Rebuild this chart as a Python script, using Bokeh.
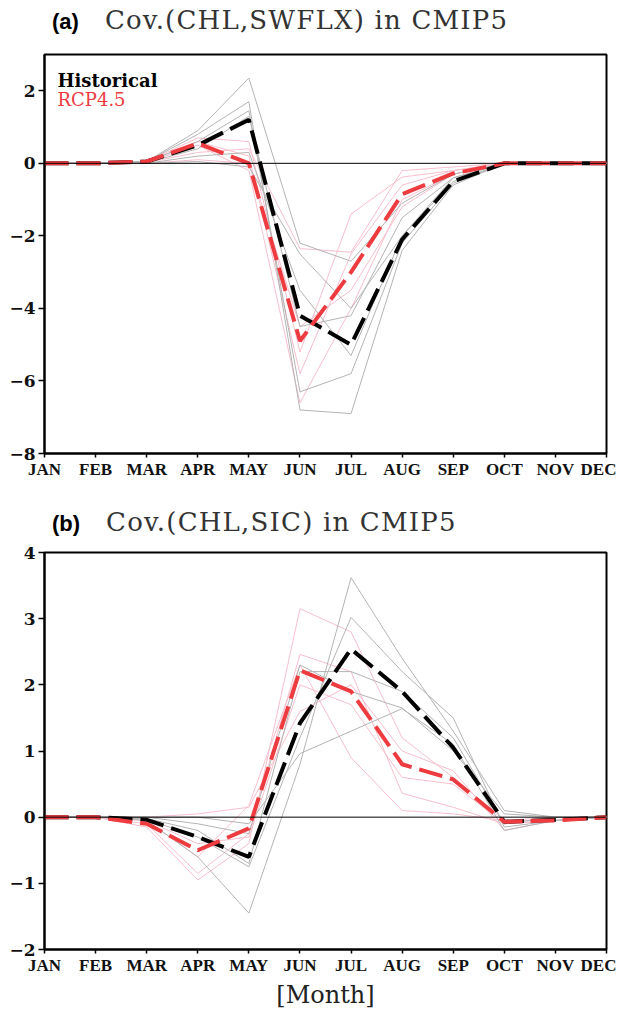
from bokeh.plotting import figure
from bokeh.models import FixedTicker, Span, Label, Range1d, Div
from bokeh.layouts import column
from bokeh.embed import file_html
from bokeh.resources import INLINE

months = ["JAN", "FEB", "MAR", "APR", "MAY", "JUN", "JUL", "AUG", "SEP", "OCT", "NOV", "DEC"]
month_idx = list(range(12))

# ---- panel (a): Cov.(CHL,SWFLX)
a_hist_mean = [0, 0, 0.05, 0.5, 1.2, -4.2, -5.0, -2.1, -0.5, 0, 0, 0]
a_rcp_mean = [0, 0, 0.05, 0.55, 0.0, -4.9, -3.0, -0.85, -0.28, 0, 0, 0]
a_hist_m1 = [0, 0, 0.05, 0.9, 2.35, -2.2, -2.7, -1.1, -0.3, 0, 0, 0]
a_hist_m2 = [0, 0, 0.05, 0.8, 1.7, -6.8, -6.9, -2.4, -0.6, 0, 0, 0]
a_hist_m3 = [0, 0, 0.03, 0.6, 1.45, -6.3, -5.8, -2.2, -0.55, 0, 0, 0]
a_hist_m4 = [0, 0, 0.02, 0.4, 1.3, -4.5, -4.2, -1.5, -0.4, 0, 0, 0]
a_hist_m5 = [0, 0, 0.0, 0.2, 0.3, -3.5, -5.3, -2.0, -0.5, 0, 0, 0]
a_hist_m6 = [0, 0, 0.0, 0.05, -0.1, -2.5, -4.0, -2.0, -0.4, 0, 0, 0]
a_rcp_m1 = [0, 0, 0.05, 0.7, 0.6, -5.2, -1.4, -0.38, -0.2, 0, 0, 0]
a_rcp_m2 = [0, 0, 0.05, 0.6, 0.2, -5.8, -2.5, -0.6, -0.2, 0, 0, 0]
a_rcp_m3 = [0, 0, 0.03, 0.5, -0.2, -6.6, -4.0, -1.0, -0.3, 0, 0, 0]
a_rcp_m4 = [0, 0, 0.02, 0.3, 0.4, -2.35, -2.45, -0.2, -0.1, 0, 0, 0]
a_rcp_m5 = [0, 0, 0.0, 0.1, 0.0, -4.5, -3.5, -1.2, -0.3, 0, 0, 0]
a_yticks = [-8, -6, -4, -2, 0, 2]
a_ylabels = ["\u22128", "\u22126", "\u22124", "\u22122", "0", "2"]

# ---- panel (b): Cov.(CHL,SIC)
b_hist_mean = [0, 0, -0.04, -0.3, -0.6, 1.42, 2.54, 1.9, 1.05, -0.07, -0.04, 0]
b_rcp_mean = [0, 0, -0.1, -0.5, -0.17, 2.22, 1.9, 0.8, 0.57, -0.07, -0.05, 0]
b_hist_m1 = [0, 0, -0.05, -0.6, -1.45, 0.8, 3.62, 2.4, 1.3, 0.1, 0, 0]
b_hist_m2 = [0, 0, -0.03, -0.3, -0.75, 1.2, 3.02, 2.2, 1.5, -0.15, -0.05, 0]
b_hist_m3 = [0, 0, -0.02, -0.2, -0.7, 2.2, 2.2, 1.9, 1.2, -0.1, 0, 0]
b_hist_m4 = [0, 0, 0.0, -0.1, -0.25, 2.3, 1.9, 1.65, 1.0, 0.05, 0, 0]
b_hist_m5 = [0, 0, 0.0, 0.0, -0.1, 0.96, 1.3, 1.64, 1.1, -0.2, -0.05, 0]
b_rcp_m1 = [0, 0, -0.15, -0.95, -0.4, 3.15, 2.8, 1.2, 0.6, -0.05, -0.05, 0]
b_rcp_m2 = [0, 0, -0.1, -0.85, -0.25, 2.46, 2.2, 0.36, 0.15, -0.1, -0.05, 0]
b_rcp_m3 = [0, 0, -0.05, -0.6, 0.18, 2.3, 0.9, 0.1, 0.05, -0.05, 0, 0]
b_rcp_m4 = [0, 0, 0.0, 0.05, 0.15, 1.6, 2.0, 1.0, 0.7, -0.2, -0.05, 0]
b_rcp_m5 = [0, 0, -0.05, -0.4, -0.3, 2.0, 1.7, 0.6, 0.5, -0.1, -0.05, 0]
b_yticks = [-2, -1, 0, 1, 2, 3, 4]
b_ylabels = ["\u22122", "\u22121", "0", "1", "2", "3", "4"]

GRAY = "#b4b4b4"
PINK = "#f6bfcd"
RED = "#ee3b40"
TICK_FONT = "DejaVu Serif"
W = 616


def title_div(letter, title, height, pad_top):
    html = (
        f"<div style='padding-left:52px;padding-top:{pad_top}px;white-space:nowrap;'>"
        f"<span style=\"font-family:'Liberation Sans';font-weight:bold;font-size:22px;color:#000;\">{letter}</span>"
        f"<span style=\"display:inline-block;width:26px;\"></span>"
        f"<span style=\"font-family:'DejaVu Serif';font-size:26px;letter-spacing:1.2px;color:#333;\">{title}</span>"
        f"</div>"
    )
    return Div(text=html, width=W, height=height, margin=0)


def make_panel(hist_models, rcp_models, hist_mean, rcp_mean,
               ylo, yhi, yticks, ylabels, top, bottom, fh, legend, xlabel=None):
    height = top + fh + bottom
    p = figure(width=W, height=height, output_backend="svg", toolbar_location=None,
               x_range=Range1d(0, 11), y_range=Range1d(ylo, yhi),
               min_border_left=44, min_border_right=10, min_border_top=top,
               min_border_bottom=bottom, margin=0)
    p.xgrid.visible = False
    p.ygrid.visible = False
    p.outline_line_color = "black"
    p.outline_line_width = 2
    p.outline_line_alpha = 1
    p.background_fill_color = "white"
    p.border_fill_color = "white"

    for m in rcp_models:
        p.line(month_idx, m, line_color=PINK, line_width=1)
    for m in hist_models:
        p.line(month_idx, m, line_color=GRAY, line_width=1)
    p.add_layout(Span(location=0, dimension="width", line_color="black",
                      line_width=1, level="glyph"))
    p.line(month_idx, hist_mean, line_color="black", line_width=4, line_dash="24 8")
    p.line(month_idx, rcp_mean, line_color=RED, line_width=4, line_dash="24 8")

    for ax in (p.xaxis[0], p.yaxis[0]):
        ax.axis_line_width = 2
        ax.axis_line_color = "black"
        ax.major_tick_line_width = 1.5
        ax.major_tick_in = 0
        ax.minor_tick_line_color = None
        ax.major_label_text_font = TICK_FONT
        ax.major_label_text_font_style = "bold"
        ax.major_label_text_color = "#111111"
    p.xaxis.ticker = FixedTicker(ticks=month_idx)
    p.xaxis.major_label_overrides = {i: m for i, m in enumerate(months)}
    p.xaxis.major_tick_out = 4
    p.xaxis.major_label_standoff = 2
    p.xaxis.major_label_text_font = "Liberation Serif"
    p.xaxis.major_label_text_font_size = "17px"
    p.yaxis.ticker = FixedTicker(ticks=yticks)
    p.yaxis.major_label_overrides = {v: l for v, l in zip(yticks, ylabels)}
    p.yaxis.major_tick_out = 6
    p.yaxis.major_label_standoff = 3
    p.yaxis.major_label_text_font_size = "17px"

    if xlabel:
        p.xaxis.axis_label = xlabel
        p.xaxis.axis_label_text_font = "DejaVu Serif"
        p.xaxis.axis_label_text_font_style = "normal"
        p.xaxis.axis_label_text_font_size = "24px"
        p.xaxis.axis_label_text_color = "#222222"
        p.xaxis.axis_label_standoff = 3

    if legend:
        p.add_layout(Label(x=13, y=fh - 15, x_units="screen", y_units="screen",
                           text="Historical", text_font="DejaVu Serif",
                           text_font_style="bold", text_font_size="18px",
                           text_baseline="top", text_color="black"))
        p.add_layout(Label(x=13, y=fh - 34, x_units="screen", y_units="screen",
                           text="RCP4.5", text_font="DejaVu Serif",
                           text_font_size="18px",
                           text_baseline="top", text_color=RED))
    return p


t1 = title_div("(a)", "Cov.(CHL,SWFLX) in CMIP5", height=40, pad_top=2)
p1 = make_panel([a_hist_m1, a_hist_m2, a_hist_m3, a_hist_m4, a_hist_m5, a_hist_m6],
                [a_rcp_m1, a_rcp_m2, a_rcp_m3, a_rcp_m4, a_rcp_m5],
                a_hist_mean, a_rcp_mean, -8, 3, a_yticks, a_ylabels,
                top=14, bottom=47, fh=399, legend=True)
t2 = title_div("(b)", "Cov.(CHL,SIC) in CMIP5", height=40, pad_top=4)
p2 = make_panel([b_hist_m1, b_hist_m2, b_hist_m3, b_hist_m4, b_hist_m5],
                [b_rcp_m1, b_rcp_m2, b_rcp_m3, b_rcp_m4, b_rcp_m5],
                b_hist_mean, b_rcp_mean, -2, 4, b_yticks, b_ylabels,
                top=12, bottom=61, fh=398, legend=False, xlabel="[Month]")

layout = column(t1, p1, t2, p2, spacing=0)
open("out.html", "w").write(file_html(layout, INLINE))
